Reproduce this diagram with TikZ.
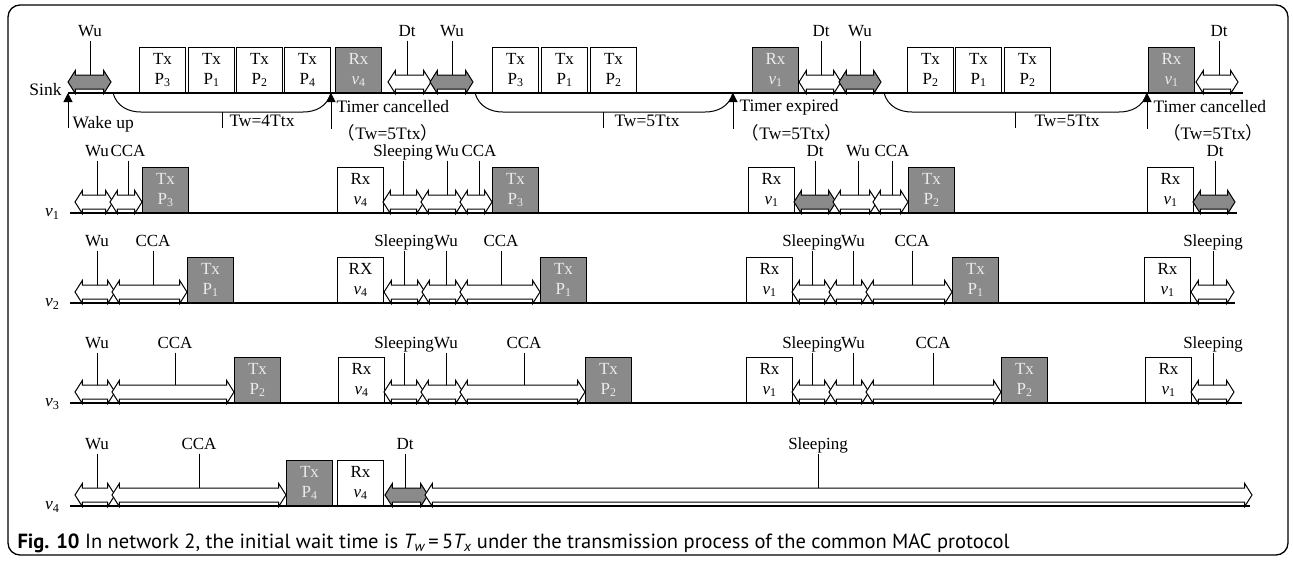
\documentclass[tikz,border=0pt]{standalone}
\usepackage{fontspec}
\setmainfont{Liberation Serif}
\newfontfamily\capfont{PT Sans}
\newfontfamily\cjk{Noto Sans CJK SC}
\usetikzlibrary{shapes.arrows, arrows.meta, calc}
\definecolor{boxgray}{RGB}{138,138,138}

\begin{document}
\begin{tikzpicture}[x=1pt, y=-1pt, line width=1pt,
  outerframe/.style={line width=1.3pt, rounded corners=12pt},
  tl/.style={line width=1.2pt},
  lbl/.style={font=\fontsize{17}{20}\selectfont, inner sep=0pt, text height=12pt, text depth=4pt},
  sl/.style={font=\fontsize{17.5}{20}\selectfont, inner sep=0pt},
  box/.style={draw, anchor=south west, minimum width=46pt, minimum height=45pt, inner sep=0pt,
    align=center, font=\fontsize{17}{20}\selectfont},
  gbox/.style={box, fill=boxgray, text=black!8},
  wa/.style={double arrow, draw, fill=white, inner xsep=0pt, inner ysep=6.5pt,
    double arrow head extend=4.5pt, double arrow tip angle=115},
  ga/.style={wa, fill=boxgray},
  uparr/.style={-{Triangle[width=9pt,length=9pt]}}]
\useasboundingbox (0,0) rectangle (1293,560);
\draw[outerframe] (8,5) rectangle (1288,555);

% sink
\coordinate (sA) at (68,93);
\coordinate (sB) at (1243,93);
\draw[tl] (sA) -- (sB);
\node[sl, anchor=east] (sink) at (62,90) {Sink};
\foreach \x/\t/\s in {139/{Tx\\P\textsubscript{3}}/box, 188/{Tx\\P\textsubscript{1}}/box,
    236/{Tx\\P\textsubscript{2}}/box, 284/{Tx\\P\textsubscript{4}}/box,
    335/{Rx\\\textit{v}\textsubscript{4}}/gbox,
    492/{Tx\\P\textsubscript{3}}/box, 541/{Tx\\P\textsubscript{1}}/box,
    590/{Tx\\P\textsubscript{2}}/box, 752/{Rx\\\textit{v}\textsubscript{1}}/gbox,
    907/{Tx\\P\textsubscript{2}}/box, 955/{Tx\\P\textsubscript{1}}/box,
    1004/{Tx\\P\textsubscript{2}}/box, 1148/{Rx\\\textit{v}\textsubscript{1}}/gbox}
  \node[\s] (s\x) at (\x,93) {\t};
\foreach \n/\a/\b/\s/\t/\x in {sw1/68/111/ga/Wu/90, sd1/388/431/wa/Dt/407,
    sw2/430/473/ga/Wu/452, sd2/799/841/wa/Dt/821, sw3/839/881/ga/Wu/860,
    sd3/1196/1238/wa/Dt/1219}{
  \node[\s, minimum height=\b-\a] (\n) at ({(\a+\b)/2},82) {};
  \node[lbl] (l\n) at (\x,32) {\t};
  \draw (l\n.south) -- (l\n.south |- \n.north);
}

% wake up
\coordinate (wu0) at (68,128);
\draw[uparr] (wu0) -- (sA);
\node[sl, anchor=west] (wake) at (72,124) {Wake up};

% waiting timers
\coordinate (c1a) at (113,93);
\coordinate (c1b) at (331,93);
\coordinate (c2a) at (475,93);
\coordinate (c2b) at (733,93);
\coordinate (c3a) at (884,93);
\coordinate (c3b) at (1147,93);
\foreach \i in {1,2,3}
  \draw (c\i a) .. controls +(4,14) and +(-12,0) .. ($(c\i a)+(28,19)$)
    -- ($(c\i b)+(-28,19)$) .. controls +(12,0) and +(-4,14) .. (c\i b);
\draw (222,112) -- (222,128);
\draw (603,112) -- (603,128);
\draw (1015,112) -- (1015,128);
\node[sl, anchor=west] (tw1) at (229,121) {Tw=4Ttx};
\node[sl, anchor=west] (tw2) at (614,121) {Tw=5Ttx};
\node[sl, anchor=west] (tw3) at (1034,121) {Tw=5Ttx};
\coordinate (t1) at (331,129);
\coordinate (t2) at (733,129);
\coordinate (t3) at (1147,129);
\foreach \i in {1,2,3}
  \draw[uparr] (t\i) -- (c\i b);
\node[sl, anchor=west] (tc1) at (336,107) {Timer cancelled};
\node[sl] (tp1) at (388,133) {{\cjk （}Tw=5Ttx{\cjk ）}};
\node[sl, anchor=west] (te2) at (739,107) {Timer expired};
\node[sl] (tp2) at (792,133) {{\cjk （}Tw=5Ttx{\cjk ）}};
\node[sl, anchor=west] (tc3) at (1153,107) {Timer cancelled};
\node[sl] (tp3) at (1213,133) {{\cjk （}Tw=5Ttx{\cjk ）}};

% v1
\coordinate (v1A) at (70,213);
\coordinate (v1B) at (1237,213);
\draw[tl] (v1A) -- (v1B);
\node[sl, anchor=east] (v1) at (60,214) {\textit{v}\textsubscript{1}};
\foreach \x/\t/\s in {142/{Tx\\P\textsubscript{3}}/gbox, 337/{Rx\\\textit{v}\textsubscript{4}}/box,
    492/{Tx\\P\textsubscript{3}}/gbox, 748/{Rx\\\textit{v}\textsubscript{1}}/box,
    908/{Tx\\P\textsubscript{2}}/gbox, 1147/{Rx\\\textit{v}\textsubscript{1}}/box}
  \node[\s] (a\x) at (\x,213) {\t};
\foreach \n/\a/\b/\s/\t/\x in {aw1/75/113/wa/Wu/97, ac1/110/142/wa/CCA/128,
    as1/383/424/wa/Sleeping/403, aw2/421/463/wa/Wu/447, ac2/460/492/wa/CCA/479,
    ad1/794/836/ga/Dt/815, aw3/833/877/wa/Wu/858, ac3/873/908/wa/CCA/892,
    ad2/1193/1235/ga/Dt/1215}{
  \node[\s, minimum height=\b-\a] (\n) at ({(\a+\b)/2},202) {};
  \node[lbl] (l\n) at (\x,152) {\t};
  \draw (l\n.south) -- (l\n.south |- \n.north);
}

% v2
\coordinate (v2A) at (70,303);
\coordinate (v2B) at (1235,303);
\draw[tl] (v2A) -- (v2B);
\node[sl, anchor=east] (v2) at (60,304) {\textit{v}\textsubscript{2}};
\foreach \x/\t/\s in {187/{Tx\\P\textsubscript{1}}/gbox, 337/{RX\\\textit{v}\textsubscript{4}}/box,
    540/{Tx\\P\textsubscript{1}}/gbox, 746/{Rx\\\textit{v}\textsubscript{1}}/box,
    952/{Tx\\P\textsubscript{1}}/gbox, 1144/{Rx\\\textit{v}\textsubscript{1}}/box}
  \node[\s] (b\x) at (\x,303) {\t};
\foreach \n/\a/\b/\s/\t/\x in {bw1/75/115/wa/Wu/97, bc1/112/187/wa/CCA/153,
    bs1/384/425/wa/Sleeping/404, bw2/422/463/wa/Wu/446, bc2/460/540/wa/CCA/501,
    bs2/792/832/wa/Sleeping/812, bw3/829/869/wa/Wu/853, bc3/866/952/wa/CCA/912,
    bs3/1191/1234/wa/Sleeping/1213}{
  \node[\s, minimum height=\b-\a] (\n) at ({(\a+\b)/2},292) {};
  \node[lbl] (l\n) at (\x,242) {\t};
  \draw (l\n.south) -- (l\n.south |- \n.north);
}

% v3
\coordinate (v3A) at (70,403);
\coordinate (v3B) at (1242,403);
\draw[tl] (v3A) -- (v3B);
\node[sl, anchor=east] (v3) at (60,404) {\textit{v}\textsubscript{3}};
\foreach \x/\t/\s in {234/{Tx\\P\textsubscript{2}}/gbox, 338/{Rx\\\textit{v}\textsubscript{4}}/box,
    585/{Tx\\P\textsubscript{2}}/gbox, 746/{Rx\\\textit{v}\textsubscript{1}}/box,
    1001/{Tx\\P\textsubscript{2}}/gbox, 1145/{Rx\\\textit{v}\textsubscript{1}}/box}
  \node[\s] (c\x) at (\x,403) {\t};
\foreach \n/\a/\b/\s/\t/\x in {cw1/75/115/wa/Wu/97, cc1/112/234/wa/CCA/175,
    cs1/384/424/wa/Sleeping/404, cw2/421/463/wa/Wu/446, cc2/460/585/wa/CCA/524,
    cs2/792/832/wa/Sleeping/812, cw3/829/869/wa/Wu/853, cc3/866/1001/wa/CCA/933,
    cs3/1191/1234/wa/Sleeping/1213}{
  \node[\s, minimum height=\b-\a] (\n) at ({(\a+\b)/2},392) {};
  \node[lbl] (l\n) at (\x,344) {\t};
  \draw (l\n.south) -- (l\n.south |- \n.north);
}

% v4
\coordinate (v4A) at (70,506);
\coordinate (v4B) at (1250,506);
\draw[tl] (v4A) -- (v4B);
\node[sl, anchor=east] (v4) at (60,507) {\textit{v}\textsubscript{4}};
\foreach \x/\t/\s in {286/{Tx\\P\textsubscript{4}}/gbox, 337/{Rx\\\textit{v}\textsubscript{4}}/box}
  \node[\s] (d\x) at (\x,506) {\t};
\foreach \n/\a/\b/\s/\t/\x in {dw1/75/115/wa/Wu/97, dc1/112/286/wa/CCA/199,
    dd1/385/428/ga/Dt/405, ds1/425/1252/wa/Sleeping/818}{
  \node[\s, minimum height=\b-\a] (\n) at ({(\a+\b)/2},495) {};
  \node[lbl] (l\n) at (\x,445) {\t};
  \draw (l\n.south) -- (l\n.south |- \n.north);
}

% caption
\node[anchor=west, inner sep=0pt, font=\capfont\fontsize{20.5}{22}\selectfont] (cap) at (17,543)
  {\textbf{Fig. 10} In network 2, the initial wait time is {\itshape T\textsubscript{w}}\,=\,5{\itshape T\textsubscript{x}} under the transmission process of the common MAC protocol};
\end{tikzpicture}
\end{document}
